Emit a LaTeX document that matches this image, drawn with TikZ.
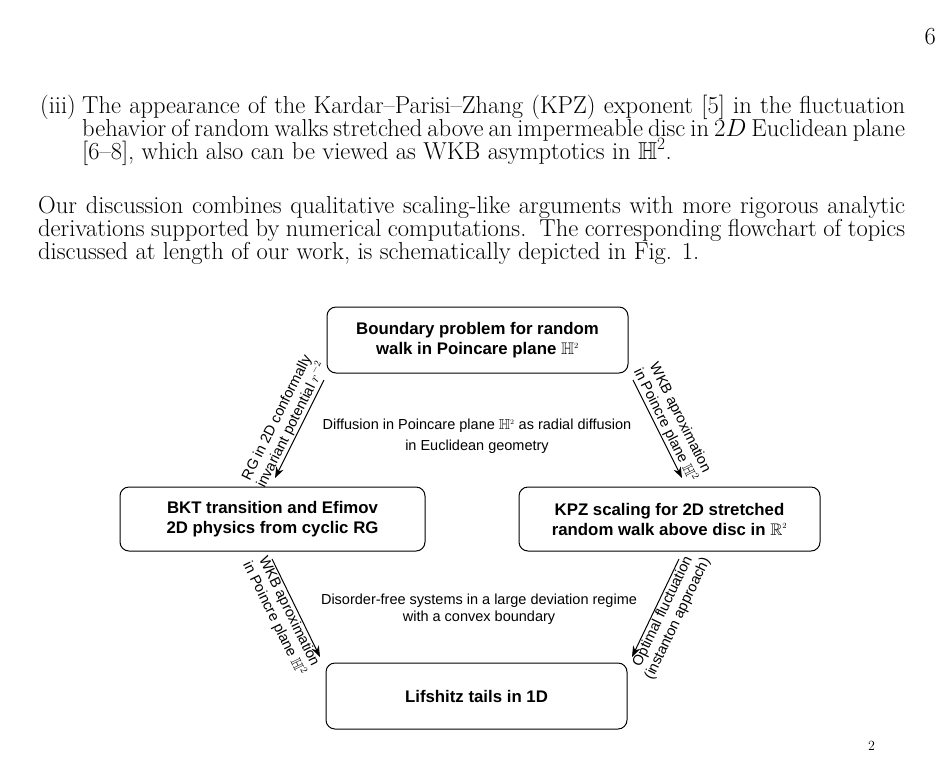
\documentclass[tikz,border=0pt]{standalone}
\usepackage{amssymb}
\usepackage{fontspec}
\usetikzlibrary{arrows.meta}
\newfontfamily\arial{Liberation Sans}
\begin{document}
\begin{tikzpicture}[x=1pt,y=-1pt,
  box/.style={draw,line width=1pt,rounded corners=9pt,font=\arial\bfseries\fontsize{16.8}{20}\selectfont,align=center,inner sep=0pt},
  lab/.style={font=\arial\fontsize{14.5}{16.5}\selectfont,align=center,inner sep=1pt},
  arr/.style={-{Stealth[length=11pt,width=8pt]},line width=1pt},
  body/.style={anchor=base west,inner sep=0pt,font=\fontsize{24.5}{23}\selectfont}]
\useasboundingbox (0,0) rectangle (944,764);
\fill[white] (0,0) rectangle (944,764);
\node[body,anchor=base east] (pg) at (936,44) {6};
\node[body] (i0) at (40,113) {(iii)};
\node[body] (i1) at (82,113) {\makebox[823pt][s]{The appearance of the Kardar--Parisi--Zhang (KPZ) exponent [5] in the fluctuation}};
\node[body] (i2) at (82,136) {\makebox[823pt][s]{behavior of random walks stretched above an impermeable disc in $2D$ Euclidean plane}};
\node[body] (i3) at (82,159) {[6--8], which also can be viewed as WKB asymptotics in $\mathbb{H}^2$.};
\node[body] (o1) at (38,213) {\makebox[867pt][s]{Our discussion combines qualitative scaling-like arguments with more rigorous analytic}};
\node[body] (o2) at (38,236) {\makebox[867pt][s]{derivations supported by numerical computations.\ \ The corresponding flowchart of topics}};
\node[body] (o3) at (38,259) {discussed at length of our work, is schematically depicted in Fig. 1.};
\node[body,font=\fontsize{14}{16}\selectfont] (cap) at (868,750) {2};

\node[box,minimum width=301pt,minimum height=66pt] (top) at (477.5,340) {Boundary problem for random\\walk in Poincare plane $\mathbb{H}^{\scriptscriptstyle 2}$};
\node[box,minimum width=305pt,minimum height=64pt] (L) at (272.5,519) {BKT transition and Efimov\\2D physics from cyclic RG};
\node[box,minimum width=301pt,minimum height=64pt] (R) at (669.5,519) {KPZ scaling for 2D stretched\\random walk above disc in $\mathbb{R}^{\scriptscriptstyle 2}$};
\node[box,minimum width=301pt,minimum height=66pt] (B) at (476.5,696) {Lifshitz tails in 1D};

\coordinate (a1) at (324,380); \coordinate (a2) at (275,478);
\coordinate (b1) at (633,380); \coordinate (b2) at (682,478);
\coordinate (c1) at (272,559); \coordinate (c2) at (320,657);
\coordinate (d1) at (679,559); \coordinate (d2) at (632,657);
\draw[arr] (a1) -- node[lab,sloped,above] {RG in 2D conformally\\invariant potential $r^{-2}$} (a2);
\draw[arr] (b1) -- node[lab,sloped,above] {WKB aproximation\\in Poincre plane $\mathbb{H}^2$} (b2);
\draw[arr] (c1) -- node[lab,sloped,below] {WKB aproximation\\in Poincre plane $\mathbb{H}^2$} (c2);
\draw[arr] (d1) -- node[lab,sloped,below] {Optimal fluctuation\\(instanton approach)} (d2);

\node[lab,font=\arial\fontsize{14.5}{21}\selectfont] (m1) at (477,436) {Diffusion in Poincare plane $\mathbb{H}^{\scriptscriptstyle 2}$ as radial diffusion\\in Euclidean geometry};
\node[lab,font=\arial\fontsize{14.5}{16.5}\selectfont] (m2) at (479,609) {Disorder-free systems in a large deviation regime\\with a convex boundary};
\end{tikzpicture}
\end{document}
